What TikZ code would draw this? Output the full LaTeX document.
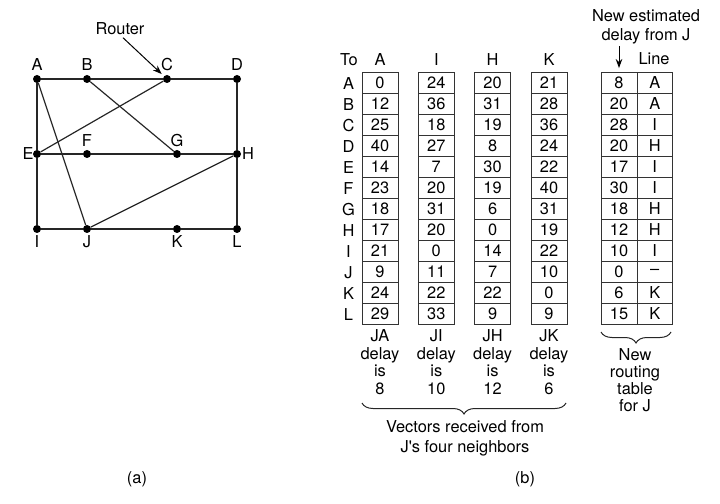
\documentclass[tikz,border=0pt]{standalone}
\usepackage{fontspec}
\setmainfont{TeX Gyre Heros}[Ligatures=TeXOff]
\usetikzlibrary{arrows.meta,decorations.pathreplacing}
\begin{document}
\begin{tikzpicture}[x=1bp,y=-1bp,
  font=\fontsize{16.4bp}{19bp}\selectfont,
  router/.style={circle,fill=black,inner sep=0pt,minimum size=8bp},
  link/.style={line width=1.2bp,draw=black!85},
  txt/.style={anchor=base,inner sep=0pt},
  lbl/.style={inner sep=0pt},
  cell/.style={draw=black!80,line width=0.9bp,minimum width=36bp,minimum height=21bp,inner sep=0pt},
  ncell/.style={cell,minimum width=35.5bp},
  tipline/.style={-{Stealth[length=9bp,width=6.5bp]},line width=1bp},
  multi/.style={align=center,anchor=north,inner sep=0pt},
  bracedeco/.style={decorate,decoration={brace,mirror,amplitude=11bp},line width=1bp,draw=black!85}]
\useasboundingbox (0,0) rectangle (720,504);

% ---------- (a) network ----------
\node[router] (A) at (37,79) {};
\node[router] (B) at (87,79) {};
\node[router] (C) at (167,79) {};
\node[router] (D) at (237,79) {};
\node[router] (E) at (37,154) {};
\node[router] (F) at (87,154) {};
\node[router] (G) at (177,154) {};
\node[router] (H) at (237,154) {};
\node[router] (I) at (37,229) {};
\node[router] (J) at (87,229) {};
\node[router] (K) at (177,229) {};
\node[router] (L) at (237,229) {};

\draw[link] (A) -- (B) -- (C) -- (D);
\draw[link] (E) -- (F) -- (G) -- (H);
\draw[link] (I) -- (J) -- (K) -- (L);
\draw[link] (A) -- (E) -- (I);
\draw[link] (D) -- (H) -- (L);
\draw[link] (A) -- (J);
\draw[link] (B) -- (G);
\draw[link] (C) -- (E);
\draw[link] (J) -- (H);

\node[txt] at (37,71) {A};
\node[txt] at (87,71) {B};
\node[txt] at (167,71) {C};
\node[txt] at (237,71) {D};
\node[txt] at (28,160) {E};
\node[txt] at (87,147) {F};
\node[txt] at (177,147) {G};
\node[txt] at (248,160) {H};
\node[txt] at (37,248) {I};
\node[txt] at (87,248) {J};
\node[txt] at (177,248) {K};
\node[txt] at (237,248) {L};

\node[txt] (router) at (120,34.5) {Router};
\draw[tipline,shorten <=4bp,shorten >=3bp] (router.south) -- (C);

\node[lbl] at (137,479) {(a)};

% ---------- (b) tables ----------
\node[txt] at (349,66) {To};
\node[txt] at (380,66) {A};
\node[txt] at (436.3,66) {I};
\node[txt] at (492.6,66) {H};
\node[txt] at (549,66) {K};

\foreach \r [count=\i from 0] in {A,B,C,D,E,F,G,H,I,J,K,L}
  \node[lbl] at (348.5,83.5+21*\i) {\r};

\foreach \v [count=\i from 0] in {0,12,25,40,14,23,18,17,21,9,24,29}
  \node[cell] (ca-\i) at (380,83+21*\i) {\v};
\foreach \v [count=\i from 0] in {24,36,18,27,7,20,31,20,0,11,22,33}
  \node[cell] (ci-\i) at (436.3,83+21*\i) {\v};
\foreach \v [count=\i from 0] in {20,31,19,8,30,19,6,0,14,7,22,9}
  \node[cell] (ch-\i) at (492.6,83+21*\i) {\v};
\foreach \v [count=\i from 0] in {21,28,36,24,22,40,31,19,22,10,0,9}
  \node[cell] (ck-\i) at (549,83+21*\i) {\v};

\foreach \v/\w [count=\i from 0] in {8/A,20/A,28/I,20/H,17/I,30/I,18/H,12/H,10/I,0/\textendash,6/K,15/K}{
  \node[cell] (nd-\i) at (619,83+21*\i) {\v};
  \node[ncell] (nl-\i) at (654.75,83+21*\i) {\w};
}

\node[txt] at (654,65) {Line};
\node[multi,font=\fontsize{16.4bp}{19.5bp}\selectfont] (est) at (646,9) {New estimated\\delay from J};
\draw[tipline,shorten <=2bp,shorten >=4bp] (est.south -| nd-0.north) -- (nd-0.north);

\begin{scope}[font=\fontsize{16.4bp}{17.6bp}\selectfont]
\node[multi] at (380,329.5) {JA\\delay\\is\\8};
\node[multi] at (436.3,329.5) {JI\\delay\\is\\10};
\node[multi] at (492.6,329.5) {JH\\delay\\is\\12};
\node[multi] at (549,329.5) {JK\\delay\\is\\6};
\end{scope}

\draw[bracedeco] (362,403) -- (566,403);
\node[multi,font=\fontsize{16.4bp}{20bp}\selectfont] at (465,420) {Vectors received from\\J's four neighbors};

\draw[bracedeco] (601,332) -- (671,332);
\node[multi,font=\fontsize{16.4bp}{17bp}\selectfont] at (635,348) {New\\routing\\table\\for J};

\node[lbl] at (525,479) {(b)};
\end{tikzpicture}
\end{document}
